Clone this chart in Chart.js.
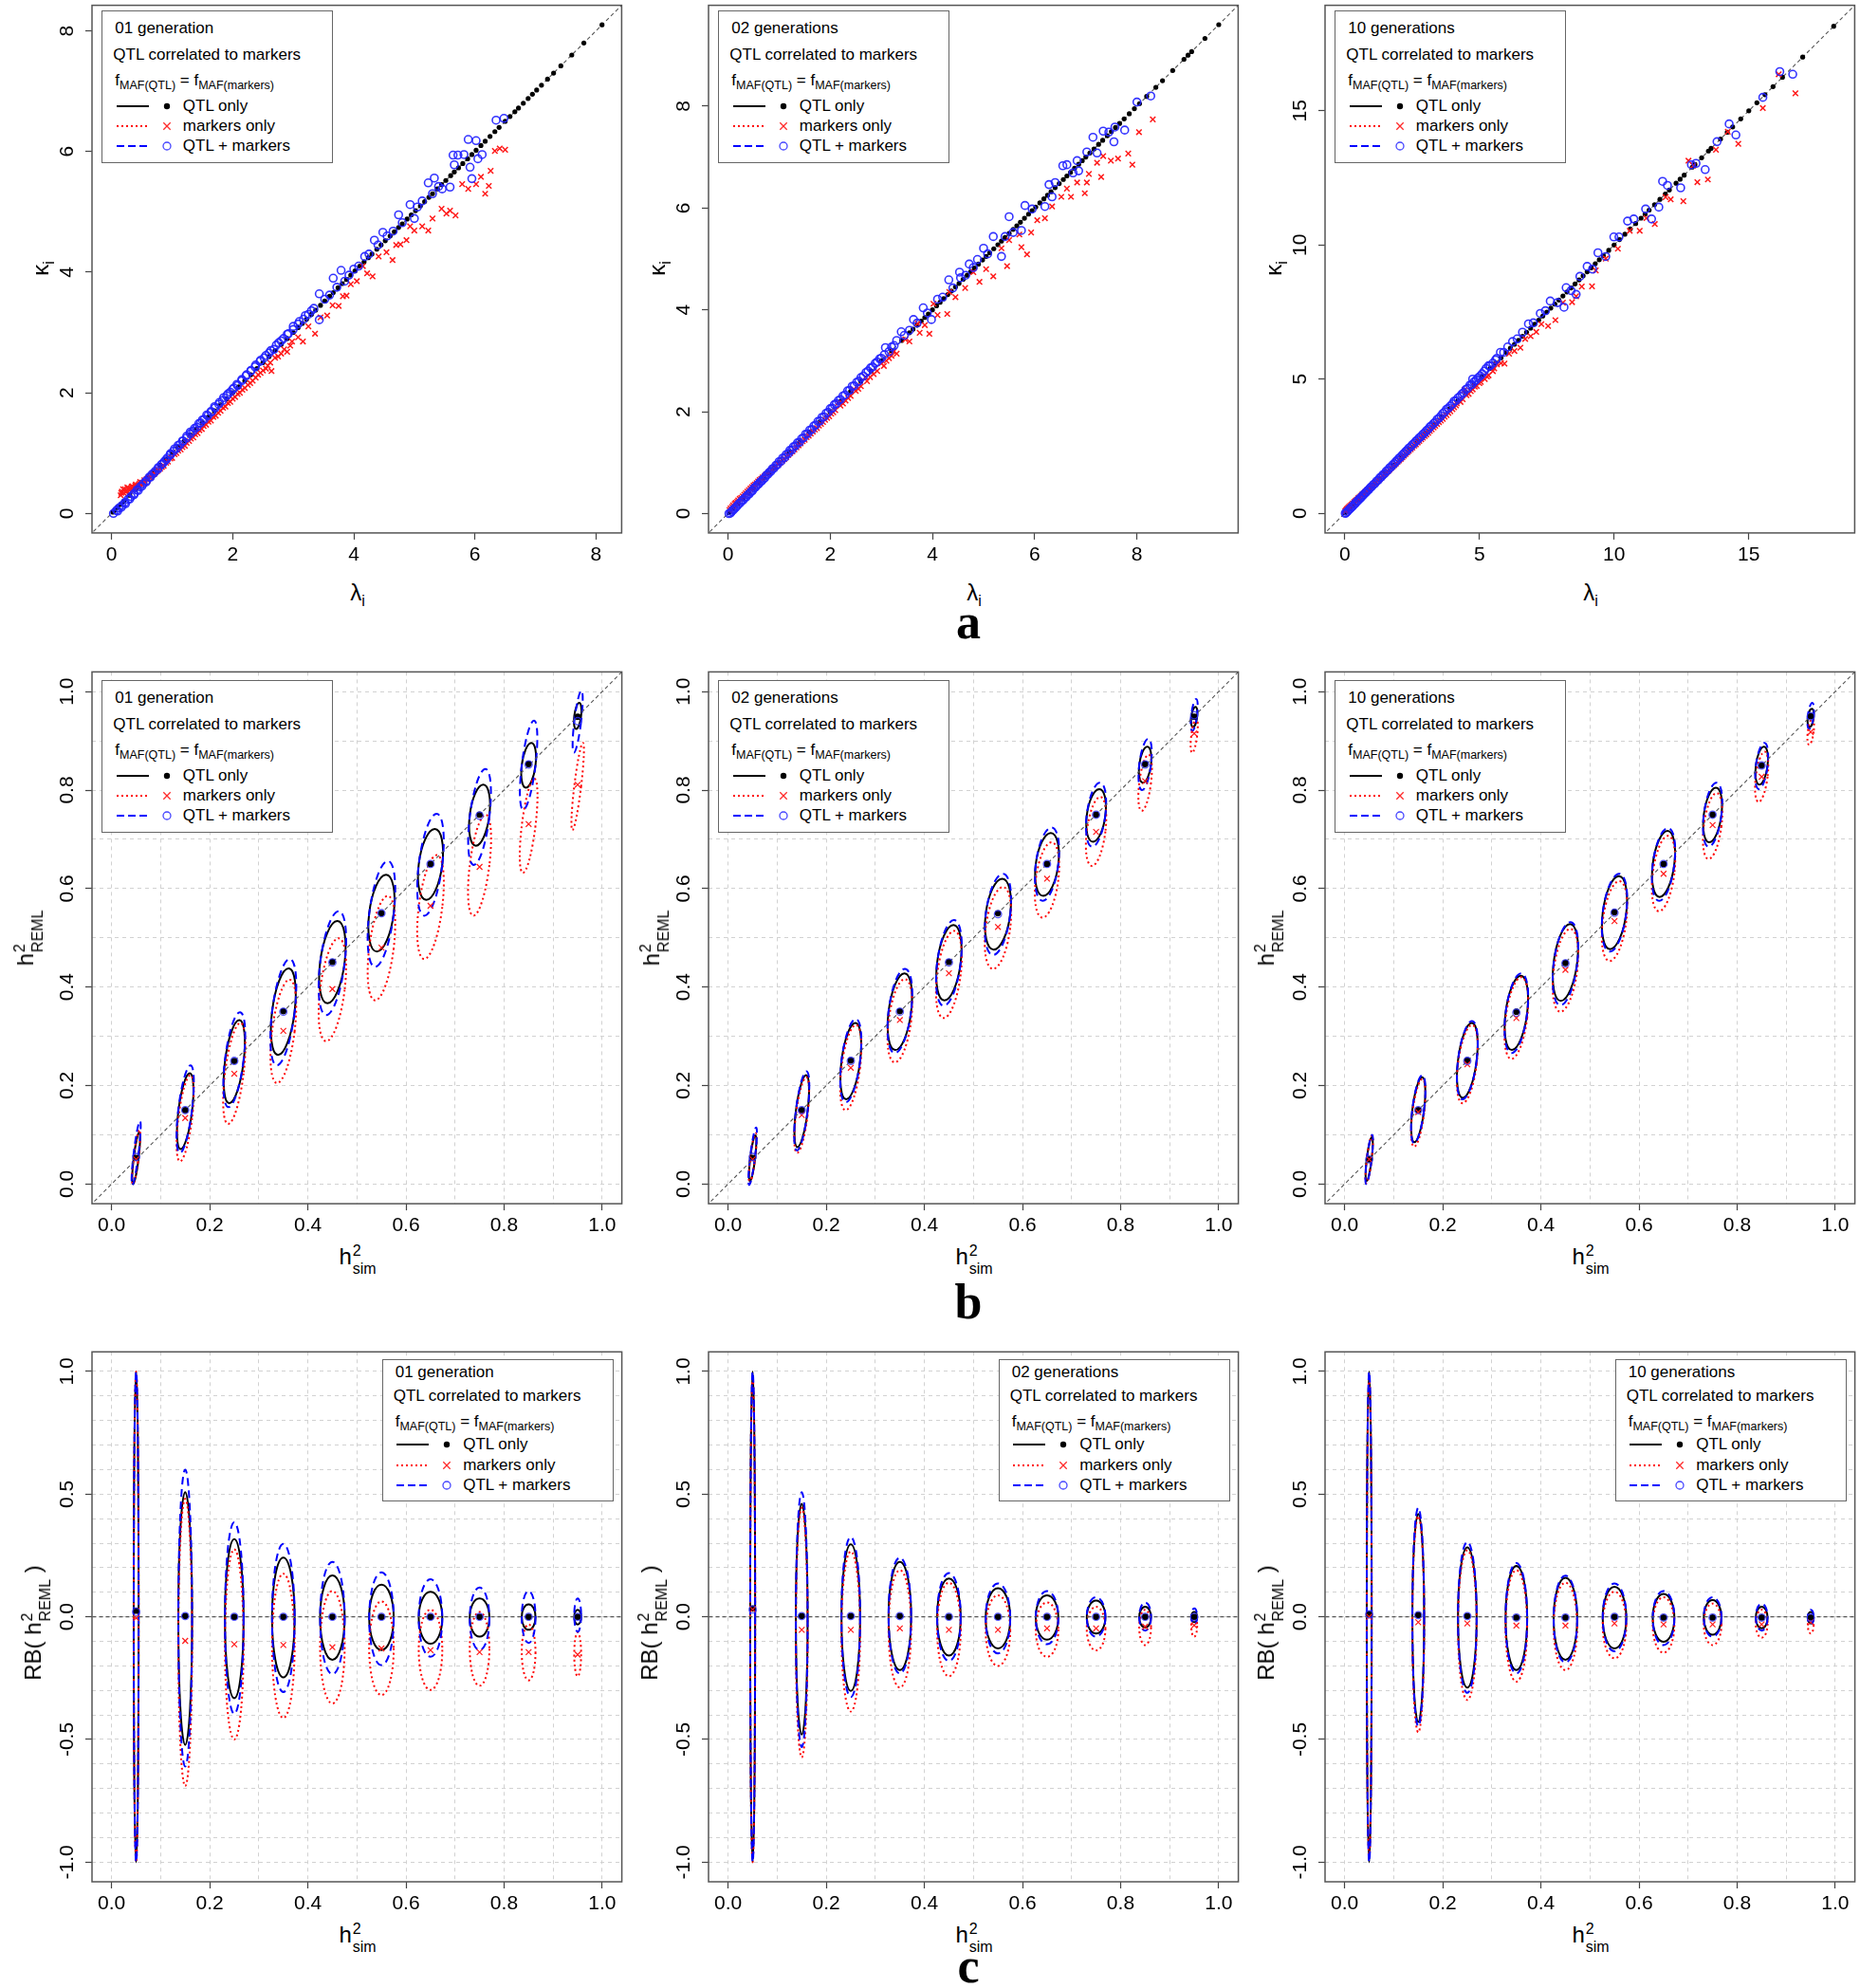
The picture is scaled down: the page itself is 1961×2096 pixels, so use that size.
<!DOCTYPE html>
<html>
<head>
<meta charset="utf-8">
<script src="https://cdn.jsdelivr.net/npm/chart.js@4.4.1/dist/chart.umd.min.js"></script>
<style>
  body { margin: 0; background: #fff; }
  #fig { position: relative; width: 1961px; height: 2096px; background: #fff;
         font-family: 'Liberation Sans', Arial, Helvetica, sans-serif; color: #000; overflow: hidden; }
  canvas.panel { position: absolute; }
  .lg { position: absolute; width: 244px; background: #fff; border: 1.5px solid #666; box-sizing: border-box; font-size: 17px; }
  .lg > div { position: absolute; white-space: nowrap; line-height: 20px; }
  .lg sub { font-size: 12.5px; vertical-align: -4px; line-height: 0; }
  .lg svg { position: absolute; }
  .ttl { position: absolute; white-space: nowrap; font-size: 24px; line-height: 24px; transform: translate(-50%, -50%); }
  .ttl.rot { transform: translate(-50%, -50%) rotate(-90deg); }
  .ttl sub { font-size: 16px; vertical-align: -6px; line-height: 0; }
  .st { display: inline-block; vertical-align: -10px; font-size: 16px; line-height: 15px; margin-left: 1px; }
  .st span { display: block; }
  .st span:first-child { margin-bottom: 4px; }
  .letter { position: absolute; font-family: 'Liberation Serif', 'DejaVu Serif', serif; font-weight: bold;
            font-size: 52px; line-height: 52px; transform: translate(-50%, -50%); }
</style>
</head>
<body>
<div id="fig"></div>
<script>
// ---------- labels ----------
const genLabels = ['01 generation', '02 generations', '10 generations'];
const seriesNames = ['QTL only', 'markers only', 'QTL + markers'];
const rowLetters = ['a', 'b', 'c'];

// ---------- row a: eigenvalues (lambda_i, kappa_i) ----------
// QTL only: the points sit on the 1:1 line, kappa equals lambda
const a1QtlOnly = [0.02,0.05,0.1,0.15,0.2,0.3,0.4,0.5,0.6,0.7,0.8,0.9,1.0,1.1,1.2,1.3,1.4,1.5,1.6,1.7,1.8,1.9,2.0,2.1,2.2,2.3,2.4,2.5,2.6,2.7,2.8,2.9,3.0,3.08,3.15,3.22,3.3,3.37,3.45,3.52,3.6,3.66,3.74,3.81,3.88,3.95,4.02,4.1,4.17,4.24,4.3,4.38,4.45,4.52,4.6,4.67,4.74,4.8,4.88,4.95,5.02,5.1,5.17,5.24,5.3,5.38,5.45,5.52,5.6,5.66,5.73,5.8,5.88,5.95,6.02,6.1,6.17,6.25,6.33,6.4,6.5,6.58,6.66,6.72,6.8,6.88,6.95,7.02,7.1,7.2,7.3,7.42,7.6,7.8,8.1];
const a1Markers = [[0.15,0.3],[0.17,0.36],[0.2,0.34],[0.22,0.4],[0.25,0.37],[0.28,0.42],[0.31,0.4],[0.34,0.45],[0.37,0.43],[0.4,0.48],[0.44,0.47],[0.47,0.52],[0.5,0.51],[0.54,0.55],[0.58,0.57],[0.62,0.6],[0.67,0.64],[0.72,0.68],[0.77,0.72],[0.83,0.77],[0.9,0.84],[0.97,0.91],[1.04,0.98],[1.1,1.04],[1.17,1.1],[1.24,1.17],[1.31,1.24],[1.38,1.31],[1.45,1.38],[1.52,1.45],[1.6,1.52],[1.68,1.6],[1.76,1.67],[1.84,1.75],[1.92,1.83],[2.0,1.9],[2.08,1.98],[2.16,2.05],[2.25,2.13],[2.33,2.2],[2.42,2.3],[2.5,2.37],[2.58,2.45],[2.64,2.36],[2.7,2.58],[2.8,2.65],[2.9,2.68],[2.98,2.85],[3.08,2.92],[3.16,2.85],[3.25,3.1],[3.36,2.98],[3.45,3.25],[3.56,3.28],[3.65,3.45],[3.75,3.44],[3.82,3.6],[3.88,3.61],[3.95,3.8],[4.05,3.85],[4.15,4.1],[4.22,3.98],[4.31,3.93],[4.41,4.26],[4.54,4.33],[4.64,4.2],[4.7,4.45],[4.77,4.46],[4.87,4.53],[4.93,4.76],[5.0,4.69],[5.13,4.76],[5.23,4.69],[5.3,4.89],[5.45,5.05],[5.53,4.97],[5.59,5.02],[5.68,4.94],[5.79,5.46],[5.89,5.38],[6.02,5.46],[6.1,5.58],[6.17,5.3],[6.23,5.43],[6.26,5.68],[6.33,6.01],[6.41,6.05],[6.5,6.03]];
const a1MarkersBand = [[0.16,0.34],[0.19,0.4],[0.23,0.36],[0.26,0.43],[0.3,0.38],[0.33,0.44],[0.36,0.41],[0.39,0.46],[0.43,0.44],[0.46,0.49],[0.5,0.48],[0.55,0.52],[0.6,0.55],[0.65,0.6],[0.7,0.65],[0.75,0.7],[0.8,0.74],[0.86,0.79],[0.93,0.86],[1.0,0.92],[1.07,1.0],[1.14,1.06],[1.21,1.12],[1.28,1.2],[1.35,1.26],[1.42,1.33],[1.49,1.4],[1.56,1.47],[1.64,1.54],[1.72,1.62],[1.8,1.7],[1.88,1.77],[1.96,1.85],[2.04,1.93],[2.12,2.0],[2.2,2.08],[2.29,2.16],[2.38,2.25],[2.46,2.33],[2.55,2.4],[2.62,2.5],[2.75,2.6],[2.85,2.72],[2.95,2.78]];
const a1Both = [[0.03,0.0],[0.08,0.05],[0.12,0.09],[0.17,0.13],[0.22,0.18],[0.27,0.23],[0.32,0.28],[0.37,0.33],[0.42,0.39],[0.47,0.44],[0.52,0.49],[0.57,0.54],[0.62,0.6],[0.67,0.65],[0.72,0.7],[0.77,0.76],[0.82,0.81],[0.87,0.86],[0.92,0.92],[0.97,0.97],[1.02,1.03],[1.08,1.08],[1.13,1.14],[1.18,1.2],[1.24,1.25],[1.3,1.32],[1.35,1.37],[1.41,1.43],[1.47,1.5],[1.53,1.56],[1.59,1.62],[1.65,1.68],[1.71,1.75],[1.77,1.81],[1.83,1.87],[1.9,1.95],[1.96,2.01],[2.02,2.08],[2.08,2.12],[2.15,2.2],[2.22,2.28],[2.3,2.36],[2.37,2.43],[2.45,2.52],[2.52,2.58],[2.6,2.66],[2.68,2.72],[2.76,2.83],[2.84,2.9],[2.92,2.98],[3.0,3.05],[3.08,3.14],[3.17,3.22],[3.25,3.3],[3.34,3.4],[3.43,3.64],[3.43,3.21],[3.52,3.55],[3.6,3.62],[3.66,3.9],[3.72,3.75],[3.79,4.03],[3.85,3.85],[3.92,3.95],[4.0,4.05],[4.08,4.1],[4.18,4.26],[4.25,4.3],[4.34,4.53],[4.4,4.45],[4.48,4.66],[4.55,4.6],[4.65,4.68],[4.74,4.95],[4.8,4.82],[4.93,5.12],[5.0,4.89],[5.05,5.08],[5.13,5.18],[5.23,5.48],[5.3,5.3],[5.33,5.56],[5.4,5.42],[5.46,5.38],[5.59,5.41],[5.64,5.94],[5.66,5.78],[5.72,5.94],[5.82,5.95],[5.89,6.2],[5.92,5.74],[5.95,5.55],[6.02,6.18],[6.05,5.88],[6.12,5.95],[6.35,6.52],[6.48,6.55]];
const a1BothBand = [[0.1,0.04],[0.16,0.1],[0.23,0.16],[0.3,0.24],[0.37,0.31],[0.44,0.38],[0.5,0.45],[0.57,0.52],[0.64,0.6],[0.7,0.67],[0.77,0.74],[0.84,0.82],[0.9,0.89],[0.97,0.99],[1.04,1.07],[1.1,1.13],[1.17,1.2],[1.24,1.28],[1.3,1.35],[1.37,1.41],[1.44,1.49],[1.5,1.55],[1.57,1.63],[1.64,1.69],[1.7,1.77],[1.78,1.84],[1.85,1.92],[1.92,1.98],[2.0,2.06],[2.07,2.14],[2.15,2.22],[2.23,2.3],[2.3,2.37],[2.38,2.46],[2.46,2.54],[2.55,2.62],[2.63,2.7],[2.72,2.79],[2.8,2.86],[2.9,2.97],[3.0,3.1],[3.1,3.18],[3.2,3.28],[3.3,3.36]];

const a2QtlOnly = [0.02,0.1,0.2,0.3,0.4,0.5,0.6,0.7,0.8,0.9,1.0,1.2,1.4,1.6,1.8,2.0,2.2,2.4,2.6,2.8,3.0,3.2,3.4,3.55,3.62,3.7,3.78,3.85,3.92,4.0,4.08,4.15,4.22,4.3,4.37,4.45,4.52,4.6,4.68,4.75,4.82,4.9,4.98,5.05,5.12,5.2,5.28,5.35,5.42,5.5,5.58,5.65,5.72,5.8,5.88,5.95,6.02,6.1,6.18,6.25,6.32,6.4,6.48,6.56,6.63,6.7,6.78,6.86,6.93,7.0,7.08,7.16,7.25,7.33,7.42,7.5,7.58,7.66,7.75,7.85,7.95,8.05,8.19,8.37,8.5,8.7,8.92,9.0,9.07,9.33,9.6];
const a2Markers = [[0.05,0.1],[0.1,0.16],[0.15,0.21],[0.2,0.26],[0.26,0.31],[0.32,0.37],[0.38,0.43],[0.44,0.49],[0.5,0.55],[0.56,0.6],[0.62,0.66],[0.68,0.71],[0.75,0.77],[0.82,0.83],[0.9,0.9],[0.98,0.97],[1.06,1.04],[1.14,1.11],[1.22,1.19],[1.3,1.26],[1.38,1.34],[1.46,1.42],[1.54,1.5],[1.62,1.57],[1.7,1.65],[1.78,1.73],[1.86,1.8],[1.94,1.88],[2.02,1.96],[2.1,2.03],[2.15,2.17],[2.2,2.12],[2.3,2.22],[2.4,2.31],[2.46,2.44],[2.55,2.45],[2.69,2.68],[2.72,2.6],[2.85,2.74],[3.0,2.95],[3.05,2.9],[3.15,3.05],[3.24,3.18],[3.3,3.14],[3.47,3.42],[3.55,3.38],[3.71,3.73],[3.75,3.55],[3.85,3.7],[3.94,3.53],[4.02,4.12],[4.1,3.9],[4.29,3.92],[4.33,4.35],[4.45,4.25],[4.64,4.43],[4.8,4.74],[4.92,4.55],[5.05,4.8],[5.19,4.66],[5.35,5.21],[5.46,4.86],[5.5,5.37],[5.7,5.48],[5.74,5.23],[5.85,5.09],[5.93,5.52],[6.05,5.76],[6.2,5.8],[6.34,6.03],[6.52,6.22],[6.63,6.38],[6.71,6.22],[6.83,6.5],[6.98,6.29],[7.02,6.5],[7.06,6.67],[7.22,6.89],[7.3,6.61],[7.34,7.02],[7.49,6.93],[7.63,6.97],[7.83,7.07],[7.91,6.85],[8.04,7.49],[8.31,7.74]];
const a2MarkersBand = [[0.03,0.07],[0.08,0.13],[0.13,0.19],[0.18,0.23],[0.23,0.29],[0.29,0.34],[0.35,0.4],[0.41,0.46],[0.47,0.52],[0.53,0.57],[0.59,0.63],[0.65,0.68],[0.72,0.74],[0.79,0.8],[0.86,0.86],[0.94,0.93],[1.02,1.0],[1.1,1.07],[1.18,1.15],[1.26,1.22],[1.34,1.3],[1.42,1.38],[1.5,1.45],[1.58,1.53],[1.66,1.61],[1.74,1.68],[1.82,1.76],[1.9,1.84],[1.98,1.91],[2.06,1.99],[2.25,2.16],[2.35,2.27],[2.5,2.41],[2.6,2.5],[2.78,2.68],[2.92,2.8],[3.1,3.0],[3.2,3.1]];
const a2Both = [[0.02,0.0],[0.07,0.04],[0.12,0.09],[0.18,0.15],[0.24,0.21],[0.3,0.27],[0.36,0.33],[0.42,0.39],[0.48,0.45],[0.54,0.52],[0.6,0.58],[0.66,0.64],[0.72,0.7],[0.78,0.77],[0.84,0.83],[0.9,0.89],[0.97,0.96],[1.04,1.03],[1.11,1.1],[1.18,1.18],[1.25,1.25],[1.32,1.33],[1.4,1.4],[1.48,1.49],[1.56,1.57],[1.64,1.65],[1.72,1.74],[1.8,1.82],[1.88,1.9],[1.96,1.99],[2.04,2.07],[2.12,2.16],[2.2,2.24],[2.29,2.33],[2.38,2.42],[2.47,2.51],[2.56,2.6],[2.65,2.7],[2.74,2.8],[2.83,2.88],[2.92,2.98],[3.0,3.05],[3.08,3.26],[3.15,3.18],[3.25,3.3],[3.39,3.57],[3.45,3.5],[3.55,3.6],[3.63,3.81],[3.7,3.74],[3.82,4.04],[3.9,3.94],[3.98,3.81],[4.1,4.21],[4.2,4.25],[4.32,4.59],[4.4,4.43],[4.53,4.74],[4.55,4.63],[4.65,4.68],[4.72,4.9],[4.8,4.83],[4.88,4.99],[5.0,5.21],[5.08,5.1],[5.19,5.44],[5.35,5.05],[5.42,5.44],[5.5,5.83],[5.58,5.52],[5.74,5.56],[5.81,6.05],[5.95,5.98],[6.2,6.03],[6.28,6.46],[6.34,6.22],[6.4,6.5],[6.55,6.83],[6.63,6.85],[6.75,6.69],[6.83,6.93],[6.86,6.73],[7.02,7.1],[7.14,7.39],[7.22,7.08],[7.34,7.51],[7.45,7.49],[7.55,7.3],[7.57,7.59],[7.76,7.53],[8.0,8.08],[8.27,8.2]];
const a2BothBand = [[0.05,0.01],[0.1,0.07],[0.15,0.12],[0.21,0.19],[0.27,0.25],[0.33,0.31],[0.39,0.37],[0.45,0.43],[0.51,0.5],[0.57,0.56],[0.63,0.62],[0.69,0.68],[0.75,0.75],[0.81,0.81],[0.87,0.88],[0.94,0.95],[1.0,1.02],[1.07,1.09],[1.14,1.16],[1.21,1.24],[1.28,1.31],[1.36,1.39],[1.44,1.47],[1.52,1.56],[1.6,1.64],[1.68,1.72],[1.76,1.81],[1.84,1.89],[1.92,1.97],[2.0,2.06],[2.08,2.14],[2.16,2.22],[2.25,2.31],[2.34,2.41],[2.43,2.5],[2.52,2.58],[2.6,2.67],[2.7,2.77],[2.79,2.86],[2.88,2.95],[2.97,3.04],[3.06,3.12],[3.2,3.27],[3.3,3.4]];

const a3QtlOnly = [0.02,0.1,0.2,0.35,0.5,0.7,0.9,1.1,1.3,1.5,1.8,2.1,2.4,2.7,3.0,3.3,3.6,3.9,4.2,4.5,4.8,5.1,5.4,5.6,5.8,6.0,6.15,6.3,6.45,6.6,6.75,6.9,7.05,7.2,7.35,7.5,7.65,7.8,7.95,8.1,8.25,8.4,8.55,8.7,8.85,9.0,9.15,9.3,9.45,9.6,9.8,10.0,10.2,10.4,10.6,10.8,11.0,11.15,11.3,11.5,11.7,11.9,12.05,12.3,12.45,12.6,12.9,13.0,13.25,13.5,13.6,13.95,14.2,14.4,14.7,15.0,15.3,15.6,15.9,16.25,17.0,18.15];
const a3Markers = [[0.05,0.12],[0.12,0.2],[0.2,0.28],[0.3,0.37],[0.4,0.46],[0.5,0.56],[0.6,0.65],[0.7,0.74],[0.8,0.83],[0.9,0.92],[1.0,1.01],[1.12,1.12],[1.24,1.23],[1.36,1.34],[1.48,1.46],[1.6,1.57],[1.72,1.69],[1.84,1.8],[1.96,1.92],[2.08,2.03],[2.2,2.15],[2.32,2.27],[2.45,2.39],[2.58,2.52],[2.71,2.64],[2.84,2.76],[2.97,2.88],[3.1,3.0],[3.23,3.13],[3.36,3.26],[3.5,3.4],[3.64,3.52],[3.78,3.66],[3.92,3.8],[4.06,3.95],[4.16,4.1],[4.3,4.15],[4.45,4.6],[4.6,4.45],[4.75,4.62],[4.9,4.75],[5.05,4.9],[5.2,5.0],[5.34,5.14],[5.5,5.3],[5.65,5.55],[5.8,5.6],[5.93,5.58],[6.1,5.95],[6.3,6.05],[6.52,6.17],[6.7,6.5],[6.9,6.6],[7.11,6.76],[7.3,7.05],[7.55,6.98],[7.82,7.2],[8.1,7.85],[8.44,7.87],[8.59,8.09],[8.8,8.45],[9.18,8.46],[9.32,9.05],[9.69,9.49],[10.14,9.86],[10.58,10.53],[10.95,10.53],[11.2,11.0],[11.51,10.78],[11.91,11.78],[12.1,11.7],[12.57,11.63],[12.76,13.14],[12.94,12.96],[13.09,12.34],[13.48,12.44],[13.78,13.55],[14.22,14.22],[14.61,13.77],[15.52,15.1],[16.11,16.36],[16.73,15.65]];
const a3MarkersBand = [[0.02,0.08],[0.08,0.16],[0.16,0.24],[0.25,0.32],[0.35,0.42],[0.45,0.51],[0.55,0.6],[0.65,0.7],[0.75,0.79],[0.85,0.88],[0.95,0.96],[1.06,1.05],[1.18,1.16],[1.3,1.28],[1.42,1.4],[1.54,1.51],[1.66,1.63],[1.78,1.74],[1.9,1.86],[2.02,1.97],[2.14,2.09],[2.26,2.21],[2.38,2.33],[2.51,2.45],[2.64,2.57],[2.77,2.7],[2.9,2.82],[3.03,2.94],[3.16,3.07],[3.3,3.2],[3.43,3.33],[3.57,3.46],[3.71,3.6],[3.85,3.74],[4.0,3.88],[4.13,4.02],[4.38,4.25],[4.52,4.4],[4.68,4.55],[4.83,4.72],[5.0,4.85],[5.28,5.1],[5.55,5.4]];
const a3Both = [[0.02,0.0],[0.1,0.07],[0.2,0.17],[0.3,0.27],[0.4,0.38],[0.5,0.48],[0.6,0.58],[0.7,0.69],[0.8,0.79],[0.9,0.89],[1.0,0.99],[1.12,1.11],[1.24,1.23],[1.36,1.36],[1.48,1.48],[1.6,1.6],[1.72,1.73],[1.84,1.85],[1.96,1.98],[2.08,2.1],[2.2,2.23],[2.32,2.35],[2.45,2.48],[2.58,2.61],[2.71,2.74],[2.84,2.87],[2.97,3.0],[3.1,3.13],[3.23,3.27],[3.36,3.4],[3.5,3.55],[3.64,3.72],[3.78,3.88],[3.92,4.0],[4.06,4.18],[4.2,4.3],[4.35,4.45],[4.5,4.62],[4.65,4.78],[4.75,5.0],[4.8,4.9],[4.95,5.05],[5.1,5.2],[5.25,5.4],[5.34,5.5],[5.5,5.6],[5.65,5.78],[5.78,6.0],[5.9,6.0],[6.05,6.2],[6.23,6.4],[6.4,6.5],[6.6,6.75],[6.82,7.06],[7.0,7.1],[7.26,7.45],[7.45,7.55],[7.63,7.91],[7.9,7.85],[8.14,7.68],[8.22,8.41],[8.4,8.3],[8.59,8.16],[8.73,8.83],[9.0,9.2],[9.2,9.1],[9.4,9.71],[9.69,9.57],[9.99,10.3],[10.18,10.3],[10.5,10.89],[10.73,10.97],[11.17,11.34],[11.39,10.97],[11.66,11.41],[11.8,12.37],[11.98,12.22],[12.47,12.13],[12.87,12.99],[13.04,13.04],[13.38,12.81],[13.82,13.85],[14.27,14.51],[14.52,14.1],[15.52,15.5],[16.15,16.46],[16.63,16.36]];
const a3BothBand = [[0.05,0.02],[0.15,0.13],[0.25,0.23],[0.35,0.33],[0.45,0.44],[0.55,0.54],[0.65,0.64],[0.75,0.75],[0.85,0.85],[0.95,0.96],[1.06,1.07],[1.18,1.2],[1.3,1.32],[1.42,1.44],[1.54,1.57],[1.66,1.69],[1.78,1.81],[1.9,1.93],[2.02,2.06],[2.14,2.18],[2.26,2.3],[2.38,2.43],[2.51,2.56],[2.64,2.69],[2.77,2.82],[2.9,2.95],[3.03,3.08],[3.16,3.22],[3.3,3.35],[3.43,3.5],[3.57,3.63],[3.71,3.78],[3.85,3.92],[4.0,4.08],[4.13,4.2],[4.28,4.36],[4.42,4.5],[4.57,4.66],[4.72,4.8],[4.88,4.97],[5.03,5.12],[5.18,5.3],[5.4,5.5],[5.6,5.72]];

const eigenTicks = [[0, 2, 4, 6, 8], [0, 2, 4, 6, 8], [0, 5, 10, 15]];
const eigenLimits = [[-0.324, 8.424], [-0.38, 9.98], [-0.73, 18.93]];
const diagEnds = [-1, 20];

// ---------- rows b and c: simulated heritability classes ----------
const hSim = [0.05, 0.15, 0.25, 0.35, 0.45, 0.55, 0.65, 0.75, 0.85, 0.95];
const hTicks = [0, 0.2, 0.4, 0.6, 0.8, 1.0];
const hGrid = [0, 0.1, 0.2, 0.3, 0.4, 0.5, 0.6, 0.7, 0.8, 0.9, 1.0];
const hLimits = [-0.04, 1.04];
const rbTicks = [-1, -0.5, 0, 0.5, 1];
const rbGrid = [-1, -0.9, -0.8, -0.7, -0.6, -0.5, -0.4, -0.3, -0.2, -0.1, 0, 0.1, 0.2, 0.3, 0.4, 0.5, 0.6, 0.7, 0.8, 0.9, 1];
const rbLimits = [-1.08, 1.08];
const zeroEnds = [-1, 2];

// ellipse half-width along h2sim, per generation
const halfW01 = [0.005, 0.014, 0.019, 0.023, 0.025, 0.025, 0.024, 0.020, 0.014, 0.007];
const halfW02 = [0.005, 0.012, 0.019, 0.023, 0.024, 0.025, 0.023, 0.019, 0.012, 0.006];
const halfW10 = [0.005, 0.012, 0.019, 0.022, 0.024, 0.024, 0.022, 0.018, 0.012, 0.006];

// h2REML per class: [ellipse low, point, ellipse high]
const b1Qtl = [[0.0,0.053,0.105],[0.071,0.150,0.225],[0.164,0.250,0.333],[0.262,0.351,0.438],[0.367,0.451,0.534],[0.472,0.550,0.628],[0.577,0.650,0.721],[0.687,0.750,0.811],[0.805,0.853,0.896],[0.924,0.949,0.977]];
const b1Mrk = [[0.0,0.05,0.11],[0.046,0.134,0.221],[0.122,0.224,0.327],[0.205,0.311,0.415],[0.290,0.396,0.499],[0.373,0.480,0.585],[0.457,0.565,0.668],[0.545,0.644,0.750],[0.632,0.731,0.823],[0.719,0.811,0.896]];
const b1Both = [[-0.002,0.055,0.128],[0.063,0.150,0.241],[0.156,0.250,0.349],[0.241,0.350,0.457],[0.343,0.450,0.554],[0.441,0.550,0.656],[0.545,0.650,0.752],[0.648,0.748,0.843],[0.760,0.852,0.941],[0.876,0.940,1.002]];

const b2Qtl = [[0.006,0.053,0.099],[0.075,0.150,0.221],[0.172,0.251,0.327],[0.272,0.351,0.428],[0.373,0.451,0.526],[0.476,0.550,0.620],[0.585,0.650,0.713],[0.695,0.750,0.802],[0.815,0.853,0.888],[0.928,0.949,0.969]];
const b2Mrk = [[0.002,0.05,0.103],[0.063,0.140,0.217],[0.150,0.236,0.323],[0.247,0.333,0.416],[0.337,0.428,0.514],[0.437,0.522,0.603],[0.541,0.620,0.694],[0.646,0.715,0.786],[0.758,0.818,0.872],[0.876,0.915,0.945]];
const b2Both = [[-0.002,0.055,0.115],[0.068,0.150,0.229],[0.166,0.250,0.335],[0.266,0.350,0.437],[0.362,0.450,0.536],[0.465,0.548,0.630],[0.575,0.650,0.724],[0.685,0.750,0.815],[0.800,0.852,0.904],[0.920,0.952,0.985]];

const b3Qtl = [[0.006,0.050,0.095],[0.085,0.150,0.217],[0.175,0.251,0.327],[0.272,0.350,0.423],[0.372,0.449,0.528],[0.477,0.552,0.625],[0.583,0.650,0.717],[0.694,0.750,0.805],[0.811,0.850,0.888],[0.928,0.950,0.965]];
const b3Mrk = [[0.002,0.05,0.098],[0.076,0.146,0.213],[0.164,0.243,0.323],[0.254,0.337,0.420],[0.350,0.435,0.518],[0.453,0.534,0.615],[0.554,0.630,0.707],[0.660,0.729,0.794],[0.776,0.827,0.878],[0.892,0.918,0.945]];
const b3Both = [[0.0,0.05,0.1],[0.083,0.150,0.221],[0.172,0.250,0.331],[0.266,0.348,0.428],[0.363,0.448,0.532],[0.472,0.551,0.630],[0.575,0.650,0.723],[0.685,0.750,0.815],[0.802,0.850,0.896],[0.924,0.950,0.977]];

// RB(h2REML) per class: [ellipse low, point, ellipse high]
const c1Qtl = [[-1.0,0.025,1.0],[-0.522,0.003,0.508],[-0.332,0.0,0.317],[-0.247,0.0,0.241],[-0.175,0.0,0.169],[-0.136,0.0,0.131],[-0.110,0.0,0.102],[-0.081,0.0,0.075],[-0.053,0.0,0.051],[-0.031,0.0,0.029]];
const c1Mrk = [[-1.0,-0.005,1.0],[-0.69,-0.098,0.481],[-0.50,-0.112,0.275],[-0.412,-0.115,0.176],[-0.353,-0.124,0.105],[-0.319,-0.129,0.063],[-0.298,-0.136,0.029],[-0.281,-0.144,0.020],[-0.259,-0.144,-0.031],[-0.242,-0.154,-0.064]];
const c1Both = [[-1.0,0.02,1.0],[-0.61,0.003,0.60],[-0.395,0.0,0.385],[-0.307,0.0,0.297],[-0.234,0.0,0.224],[-0.197,0.0,0.181],[-0.163,0.0,0.153],[-0.136,0.0,0.119],[-0.107,0.0,0.105],[-0.061,0.0,0.075]];

const c2Qtl = [[-1.0,0.034,1.0],[-0.480,0.003,0.461],[-0.302,0.003,0.295],[-0.217,0.003,0.224],[-0.158,0.0,0.156],[-0.129,0.0,0.117],[-0.093,0.0,0.088],[-0.068,0.0,0.066],[-0.044,0.0,0.041],[-0.022,0.0,0.020]];
const c2Mrk = [[-1.0,0.03,0.98],[-0.573,-0.053,0.444],[-0.386,-0.053,0.266],[-0.288,-0.047,0.190],[-0.242,-0.053,0.139],[-0.200,-0.053,0.088],[-0.163,-0.047,0.059],[-0.137,-0.047,0.041],[-0.115,-0.040,0.029],[-0.081,-0.035,0.007]];
const c2Both = [[-1.0,0.03,1.0],[-0.531,0.003,0.508],[-0.327,0.003,0.325],[-0.231,0.003,0.241],[-0.180,0.0,0.178],[-0.149,0.0,0.136],[-0.112,0.0,0.105],[-0.081,0.0,0.080],[-0.056,0.0,0.058],[-0.031,0.0,0.034]];

const c3Qtl = [[-1.0,0.012,1.0],[-0.429,0.007,0.419],[-0.288,0.003,0.283],[-0.217,-0.003,0.207],[-0.175,-0.003,0.159],[-0.129,0.0,0.122],[-0.102,-0.003,0.093],[-0.073,-0.003,0.068],[-0.047,-0.003,0.041],[-0.027,-0.003,0.020]];
const c3Mrk = [[-0.98,0.0,0.97],[-0.471,-0.022,0.41],[-0.339,-0.027,0.271],[-0.264,-0.036,0.190],[-0.217,-0.036,0.139],[-0.169,-0.027,0.102],[-0.146,-0.031,0.080],[-0.115,-0.031,0.054],[-0.085,-0.031,0.029],[-0.068,-0.022,0.003]];
const c3Both = [[-1.0,0.01,1.0],[-0.446,0.007,0.444],[-0.31,0.003,0.305],[-0.231,-0.003,0.219],[-0.186,-0.003,0.168],[-0.141,0.0,0.136],[-0.115,-0.003,0.105],[-0.081,-0.003,0.080],[-0.056,-0.003,0.054],[-0.031,-0.003,0.029]];

// ---------- layout ----------
const FONT = "'Liberation Sans', Arial, Helvetica, sans-serif";
Chart.defaults.font.family = FONT;
const fig = document.getElementById('fig');
const CANVAS_W = 661, COL_STEP = 650, Y_AXIS_W = 97, PAD_RIGHT = 4.3;
const rowGeom = {
  a: { top: 0, h: 610, padTop: 3.4, axisH: 48.1 },
  b: { top: 700, h: 610, padTop: 8.4, axisH: 40.9 },
  c: { top: 1415, h: 610, padTop: 10.3, axisH: 41 }
};

const colours = { qtl: '#000000', mrk: '#ff0000', both: '#0000ff' };

// ellipses for rows b and c, drawn under the points
const ellipsePlugin = {
  id: 'ellipses',
  beforeDatasetsDraw(chart) {
    const { ctx, chartArea: a } = chart;
    const xs = chart.scales.x, ys = chart.scales.y;
    ctx.save();
    ctx.beginPath();
    ctx.rect(a.left, a.top, a.right - a.left, a.bottom - a.top);
    ctx.clip();
    chart.data.datasets.forEach(ds => {
      if (!ds.boxes) return;
      ctx.strokeStyle = ds.ringColor;
      ctx.lineWidth = 2;
      ctx.setLineDash(ds.ringDash);
      ds.boxes.forEach((b, i) => {
        const cx = xs.getPixelForValue(ds.ringX[i]);
        const rx = xs.getPixelForValue(ds.ringX[i] + ds.ringW[i]) - cx;
        const top = ys.getPixelForValue(b[2]), bot = ys.getPixelForValue(b[0]);
        ctx.save();
        ctx.translate(cx, (top + bot) / 2);
        ctx.transform(1, 0, -ds.ringShear, 1, 0, 0);
        ctx.beginPath();
        ctx.ellipse(0, 0, Math.max(rx, 0.5), Math.max((bot - top) / 2, 0.5), 0, 0, 2 * Math.PI);
        ctx.restore();
        ctx.stroke();
      });
    });
    ctx.restore();
  }
};

// R-like y tick labels (rotated) and the plot box
const rAxisPlugin = {
  id: 'raxis',
  afterDraw(chart, args, opts) {
    const { ctx, chartArea: a } = chart;
    const yl = chart.scales.yl;
    ctx.save();
    ctx.fillStyle = '#000';
    ctx.font = '21px ' + FONT;
    ctx.textAlign = 'center';
    ctx.textBaseline = 'middle';
    yl.ticks.forEach(t => {
      ctx.save();
      ctx.translate(a.left - 26, yl.getPixelForValue(t.value));
      ctx.rotate(-Math.PI / 2);
      ctx.fillText(t.value.toFixed(opts.decimals), 0, 0);
      ctx.restore();
    });
    ctx.strokeStyle = '#555';
    ctx.lineWidth = 1.5;
    ctx.strokeRect(a.left, a.top, a.right - a.left, a.bottom - a.top);
    ctx.restore();
  }
};

const setTicks = vals => s => { s.ticks = vals.map(v => ({ value: v })); };
const fixH = h => s => { s.height = h; s.paddingLeft = 0; s.paddingRight = 0; };
const fixW = w => s => { s.width = w; s.paddingTop = 0; s.paddingBottom = 0; };

function makePanel(row, col, spec) {
  const g = rowGeom[row];
  const cv = document.createElement('canvas');
  cv.className = 'panel';
  cv.width = CANVAS_W; cv.height = g.h;
  cv.style.width = CANVAS_W + 'px'; cv.style.height = g.h + 'px';
  cv.style.left = (COL_STEP * col) + 'px'; cv.style.top = g.top + 'px';
  fig.appendChild(cv);
  const hasGrid = !!spec.xGrid;
  const gridAxis = (lim, vals, horiz) => ({
    type: 'linear', min: lim[0], max: lim[1], display: hasGrid,
    position: horiz ? 'bottom' : 'left',
    afterBuildTicks: setTicks(vals || []),
    afterFit: horiz ? fixH(0) : fixW(0),
    ticks: { display: false },
    grid: { color: '#d2d2d2', lineWidth: 1, drawTicks: false },
    border: { display: false, dash: [4, 4] }
  });
  new Chart(cv, {
    type: 'scatter',
    data: { datasets: spec.datasets },
    options: {
      responsive: false,
      animation: false,
      events: [],
      layout: { padding: { top: g.padTop, right: PAD_RIGHT, left: 0, bottom: 0 } },
      plugins: { legend: { display: false }, tooltip: { enabled: false }, raxis: { decimals: spec.decimals } },
      scales: {
        x: gridAxis(spec.xlim, spec.xGrid, true),
        y: gridAxis(spec.ylim, spec.yGrid, false),
        xl: {
          type: 'linear', min: spec.xlim[0], max: spec.xlim[1], position: 'bottom',
          afterBuildTicks: setTicks(spec.xTicks), afterFit: fixH(g.axisH),
          ticks: { color: '#000', font: { size: 21 }, padding: 4, maxRotation: 0, minRotation: 0, autoSkip: false,
                   callback: v => v.toFixed(spec.decimals) },
          grid: { drawOnChartArea: false, drawTicks: true, tickLength: 7, tickWidth: 1.2, tickColor: '#444' },
          border: { display: false }
        },
        yl: {
          type: 'linear', min: spec.ylim[0], max: spec.ylim[1], position: 'left',
          afterBuildTicks: setTicks(spec.yTicks), afterFit: fixW(Y_AXIS_W),
          ticks: { display: false },
          grid: { drawOnChartArea: false, drawTicks: true, tickLength: 7, tickWidth: 1.2, tickColor: '#444' },
          border: { display: false }
        }
      }
    },
    plugins: [ellipsePlugin, rAxisPlugin]
  });
}

function refLine(pts) {
  return { type: 'line', data: pts, borderColor: '#555', borderWidth: 1.1, borderDash: [4, 3],
           pointRadius: 0, fill: false, order: 4 };
}
function pointSets(qtl, mrk, both, big) {
  return [
    { data: qtl, pointStyle: 'circle', pointRadius: big ? 3.4 : 2.6, backgroundColor: '#000', borderColor: '#000', borderWidth: 0, order: 3 },
    { data: mrk, pointStyle: 'crossRot', pointRadius: big ? 4.2 : 4, backgroundColor: '#ff1a1a', borderColor: '#ff1a1a', borderWidth: big ? 1.2 : 1.5, order: 2 },
    { data: both, pointStyle: 'circle', pointRadius: big ? 3.8 : 4, backgroundColor: 'rgba(0,0,0,0)', borderColor: big ? 'rgba(50,50,255,0.8)' : 'rgba(35,35,255,0.92)', borderWidth: big ? 1.3 : 1.6, order: 1 }
  ];
}
const toXY = arr => arr.map(p => ({ x: p[0], y: p[1] }));

// ---------- row a ----------
const rowA = [
  { qtl: a1QtlOnly, mrk: a1Markers.concat(a1MarkersBand), both: a1Both.concat(a1BothBand) },
  { qtl: a2QtlOnly, mrk: a2Markers.concat(a2MarkersBand), both: a2Both.concat(a2BothBand) },
  { qtl: a3QtlOnly, mrk: a3Markers.concat(a3MarkersBand), both: a3Both.concat(a3BothBand) }
];
rowA.forEach((p, j) => {
  makePanel('a', j, {
    xlim: eigenLimits[j], ylim: eigenLimits[j], xTicks: eigenTicks[j], yTicks: eigenTicks[j], decimals: 0,
    datasets: [refLine(diagEnds.map(v => ({ x: v, y: v })))].concat(
      pointSets(p.qtl.map(v => ({ x: v, y: v })), toXY(p.mrk), toXY(p.both), false))
  });
});

// ---------- rows b and c ----------
function ellipseSets(series, halfW, shear) {
  const sets = pointSets(series[0].map((b, i) => ({ x: hSim[i], y: b[1] })),
                         series[1].map((b, i) => ({ x: hSim[i], y: b[1] })),
                         series[2].map((b, i) => ({ x: hSim[i], y: b[1] })), true);
  const ring = [[colours.qtl, []], [colours.mrk, [2, 3]], [colours.both, [8, 5]]];
  sets.forEach((s, k) => {
    s.boxes = series[k]; s.ringX = hSim; s.ringW = halfW; s.ringShear = shear;
    s.ringColor = ring[k][0]; s.ringDash = ring[k][1];
  });
  return sets;
}
const halfWs = [halfW01, halfW02, halfW10];
const rowB = [[b1Qtl, b1Mrk, b1Both], [b2Qtl, b2Mrk, b2Both], [b3Qtl, b3Mrk, b3Both]];
const rowC = [[c1Qtl, c1Mrk, c1Both], [c2Qtl, c2Mrk, c2Both], [c3Qtl, c3Mrk, c3Both]];

rowB.forEach((series, j) => {
  makePanel('b', j, {
    xlim: hLimits, ylim: hLimits, xTicks: hTicks, yTicks: hTicks, xGrid: hGrid, yGrid: hGrid, decimals: 1,
    datasets: [refLine(diagEnds.map(v => ({ x: v, y: v })))].concat(ellipseSets(series, halfWs[j], 0.12))
  });
});
rowC.forEach((series, j) => {
  makePanel('c', j, {
    xlim: hLimits, ylim: rbLimits, xTicks: hTicks, yTicks: rbTicks, xGrid: hGrid, yGrid: rbGrid, decimals: 1,
    datasets: [refLine(zeroEnds.map(v => ({ x: v, y: 0 })))].concat(ellipseSets(series, halfWs[j], 0))
  });
});

// ---------- legends ----------
const sampleSvg = [
  '<line x1="0" y1="6" x2="34" y2="6" stroke="#000" stroke-width="2"/><circle cx="53" cy="6" r="3.2" fill="#000"/>',
  '<line x1="0" y1="6" x2="34" y2="6" stroke="#ff0000" stroke-width="2" stroke-dasharray="2 3"/><path d="M49.3 2.3 L56.7 9.7 M56.7 2.3 L49.3 9.7" stroke="#ff2a2a" stroke-width="1.3"/>',
  '<line x1="0" y1="6" x2="34" y2="6" stroke="#0000ff" stroke-width="2" stroke-dasharray="8 4"/><circle cx="53" cy="6" r="4" fill="none" stroke="#4646ff" stroke-width="1.3"/>'
];
const fLine = 'f<sub>MAF(QTL)</sub> = f<sub>MAF(markers)</sub>';

function addLegend(left, top, height, offs, gen) {
  const d = document.createElement('div');
  d.className = 'lg';
  d.style.left = left + 'px'; d.style.top = top + 'px'; d.style.height = height + 'px';
  const txt = (x, y, html) => {
    const e = document.createElement('div');
    e.style.left = (x - 1.5) + 'px'; e.style.top = (y - 11.5) + 'px';
    e.innerHTML = html;
    d.appendChild(e);
  };
  txt(14.5, offs[0], genLabels[gen]);
  txt(12.5, offs[1], 'QTL correlated to markers');
  txt(14.5, offs[2], fLine);
  seriesNames.forEach((nm, k) => {
    const s = document.createElementNS('http://www.w3.org/2000/svg', 'svg');
    s.setAttribute('width', '62'); s.setAttribute('height', '12');
    s.style.left = (16 - 1.5) + 'px'; s.style.top = (offs[3 + k] - 6 - 1.5) + 'px';
    s.innerHTML = sampleSvg[k];
    d.appendChild(s);
    txt(86, offs[3 + k], nm);
  });
  fig.appendChild(d);
}
const offsAB = [20.2, 47.5, 74.5, 102, 123, 143.5];
const offsC = [14.6, 40, 67.3, 91.3, 113.3, 134];
[0, 1, 2].forEach(j => {
  addLegend(COL_STEP * j + 107.3, 10.5, 161, offsAB, j);
  addLegend(COL_STEP * j + 107.3, 716.8, 161, offsAB, j);
  addLegend(COL_STEP * j + 402.7, 1432.7, 150, offsC, j);
});

// ---------- axis titles ----------
function addTitle(html, cx, cy, rot) {
  const e = document.createElement('div');
  e.className = 'ttl' + (rot ? ' rot' : '');
  e.style.left = cx + 'px'; e.style.top = cy + 'px';
  e.innerHTML = html;
  fig.appendChild(e);
}
const hSimTitle = 'h<span class="st"><span>2</span><span>sim</span></span>';
const hRemlTitle = 'h<span class="st"><span>2</span><span>REML</span></span>';
const rbTitle = 'RB( ' + hRemlTitle + ' )';
const rowBTitleX = [30, 40, 38];
[0, 1, 2].forEach(j => {
  const ox = COL_STEP * j;
  addTitle('λ<sub>i</sub>', ox + 377, 625, false);
  addTitle('κ<sub>i</sub>', ox + 43, 283, true);
  addTitle(hSimTitle, ox + 377, 1328, false);
  addTitle(hRemlTitle, ox + rowBTitleX[j], 989, true);
  addTitle(hSimTitle, ox + 377, 2043, false);
  addTitle(rbTitle, ox + 38, 1711, true);
});

// ---------- panel letters ----------
[[656], [1373], [2073]].forEach((p, i) => {
  const e = document.createElement('div');
  e.className = 'letter';
  e.style.left = '1021px'; e.style.top = p[0] + 'px';
  e.textContent = rowLetters[i];
  fig.appendChild(e);
});
</script>
</body>
</html>
